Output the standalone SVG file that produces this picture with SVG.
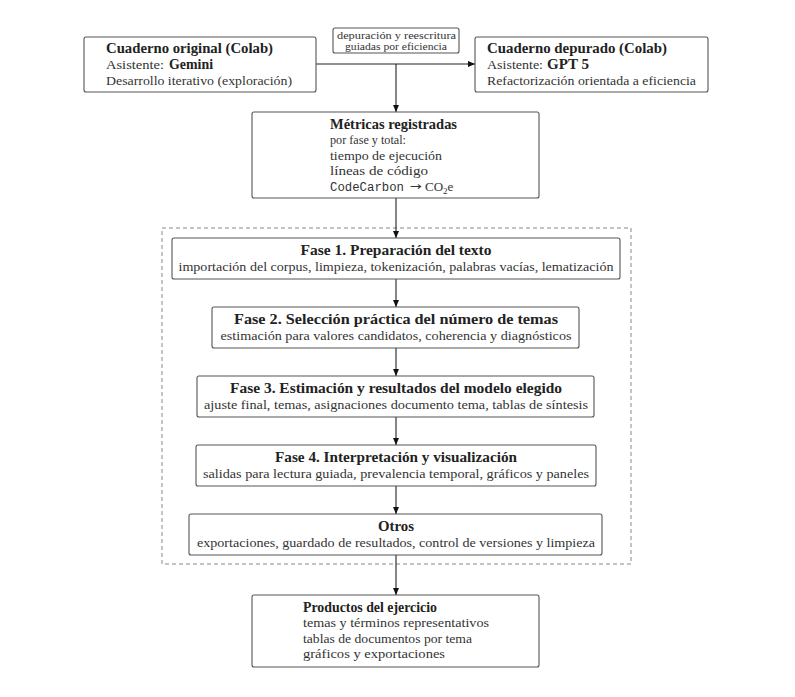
<svg xmlns="http://www.w3.org/2000/svg" width="795" height="697" viewBox="0 0 795 697">
<style>
.box{fill:#fff;stroke:#555;stroke-width:1.1}
.t{font-family:"Liberation Serif","Times New Roman",serif;fill:#222}
.b{font-weight:bold;font-size:14px}
.r{font-size:13px;fill:#333}
.s{font-size:10.5px;fill:#333}
.m{font-family:"Liberation Mono","Courier New",monospace;font-size:12px;fill:#333}
.c{text-anchor:middle}
.ln{stroke:#222;stroke-width:1.1;fill:none;marker-end:url(#ah)}
.dash{fill:none;stroke:#888;stroke-width:1;stroke-dasharray:4 3}
</style>
<defs>
<marker id="ah" markerUnits="userSpaceOnUse" markerWidth="8" markerHeight="8" viewBox="0 0 8 8" refX="7.5" refY="4" orient="auto">
<path d="M0.5,1 L7.5,4 L0.5,7 Z" fill="#111"/>
</marker>
</defs>
<rect width="795" height="697" fill="#fff"/>
<rect class="dash" x="162" y="228" width="469" height="336"/>
<g id="connectors">
<line class="ln" x1="316" y1="64" x2="475" y2="64"/>
<line class="ln" x1="396" y1="64" x2="396" y2="112"/>
<line class="ln" x1="396" y1="198" x2="396" y2="238"/>
<line class="ln" x1="396" y1="279" x2="396" y2="307"/>
<line class="ln" x1="396" y1="348" x2="396" y2="376"/>
<line class="ln" x1="396" y1="417" x2="396" y2="445"/>
<line class="ln" x1="396" y1="486" x2="396" y2="514"/>
<line class="ln" x1="396" y1="555" x2="396" y2="595"/>
</g>
<g id="label">
<rect class="box" x="333" y="28" width="126" height="25" rx="2"/>
<text class="t s" x="337" y="39" textLength="119" lengthAdjust="spacingAndGlyphs">depuración y reescritura</text>
<text class="t s" x="345" y="49.5" textLength="102" lengthAdjust="spacingAndGlyphs">guiadas por eficiencia</text>
</g>
<g id="original">
<rect class="box" x="84" y="37" width="232" height="55" rx="2"/>
<text class="t b" x="106" y="53" textLength="167" lengthAdjust="spacingAndGlyphs">Cuaderno original (Colab)</text>
<text class="t r" x="106" y="68.5" textLength="58" lengthAdjust="spacingAndGlyphs">Asistente:</text>
<text class="t b" x="169" y="68.5" textLength="44" lengthAdjust="spacingAndGlyphs">Gemini</text>
<text class="t r" x="106" y="84.5" textLength="186" lengthAdjust="spacingAndGlyphs">Desarrollo iterativo (exploración)</text>
</g>
<g id="depurado">
<rect class="box" x="475" y="37" width="233" height="55" rx="2"/>
<text class="t b" x="487" y="53" textLength="180" lengthAdjust="spacingAndGlyphs">Cuaderno depurado (Colab)</text>
<text class="t r" x="487" y="68.5" textLength="56" lengthAdjust="spacingAndGlyphs">Asistente:</text>
<text class="t b" x="547" y="68.5" textLength="42" lengthAdjust="spacingAndGlyphs">GPT 5</text>
<text class="t r" x="487" y="84.5" textLength="209" lengthAdjust="spacingAndGlyphs">Refactorización orientada a eficiencia</text>
</g>
<g id="metricas">
<rect class="box" x="252" y="112" width="287" height="86" rx="2"/>
<text class="t b" x="330" y="128.5" textLength="127" lengthAdjust="spacingAndGlyphs">Métricas registradas</text>
<text class="t r" x="330" y="144" textLength="76" lengthAdjust="spacingAndGlyphs">por fase y total:</text>
<text class="t r" x="330" y="159.5" textLength="112" lengthAdjust="spacingAndGlyphs">tiempo de ejecución</text>
<text class="t r" x="330" y="175" textLength="98" lengthAdjust="spacingAndGlyphs">líneas de código</text>
<text class="m" x="330" y="190.5" textLength="74" lengthAdjust="spacingAndGlyphs">CodeCarbon</text>
<text x="409.5" y="190" font-family="DejaVu Sans, sans-serif" font-size="11" fill="#333" textLength="12" lengthAdjust="spacingAndGlyphs">→</text>
<text class="t r" x="425" y="190.5">CO<tspan font-size="9" dy="3">2</tspan><tspan dy="-3">e</tspan></text>
</g>
<g id="fase1">
<rect class="box" x="172" y="238" width="448" height="41" rx="2"/>
<text class="t b c" x="396" y="254.5" textLength="191" lengthAdjust="spacingAndGlyphs">Fase 1. Preparación del texto</text>
<text class="t r c" x="396" y="270.5" textLength="435" lengthAdjust="spacingAndGlyphs">importación del corpus, limpieza, tokenización, palabras vacías, lematización</text>
</g>
<g id="fase2">
<rect class="box" x="212" y="307" width="367" height="41" rx="2"/>
<text class="t b c" x="396" y="323.5" textLength="324" lengthAdjust="spacingAndGlyphs">Fase 2. Selección práctica del número de temas</text>
<text class="t r c" x="396" y="339.5" textLength="351" lengthAdjust="spacingAndGlyphs">estimación para valores candidatos, coherencia y diagnósticos</text>
</g>
<g id="fase3">
<rect class="box" x="197" y="376" width="397" height="41" rx="2"/>
<text class="t b c" x="396" y="392.5" textLength="332" lengthAdjust="spacingAndGlyphs">Fase 3. Estimación y resultados del modelo elegido</text>
<text class="t r c" x="396" y="408.5" textLength="384" lengthAdjust="spacingAndGlyphs">ajuste final, temas, asignaciones documento tema, tablas de síntesis</text>
</g>
<g id="fase4">
<rect class="box" x="196" y="445" width="400" height="41" rx="2"/>
<text class="t b c" x="396" y="461.5" textLength="242" lengthAdjust="spacingAndGlyphs">Fase 4. Interpretación y visualización</text>
<text class="t r c" x="396" y="477.5" textLength="386" lengthAdjust="spacingAndGlyphs">salidas para lectura guiada, prevalencia temporal, gráficos y paneles</text>
</g>
<g id="otros">
<rect class="box" x="189" y="514" width="413" height="41" rx="2"/>
<text class="t b c" x="396" y="530.5" textLength="36" lengthAdjust="spacingAndGlyphs">Otros</text>
<text class="t r c" x="396" y="546.5" textLength="398" lengthAdjust="spacingAndGlyphs">exportaciones, guardado de resultados, control de versiones y limpieza</text>
</g>
<g id="productos">
<rect class="box" x="252" y="595" width="287" height="72" rx="2"/>
<text class="t b" x="303" y="611.5" textLength="134" lengthAdjust="spacingAndGlyphs">Productos del ejercicio</text>
<text class="t r" x="303" y="627" textLength="186" lengthAdjust="spacingAndGlyphs">temas y términos representativos</text>
<text class="t r" x="303" y="642.5" textLength="169" lengthAdjust="spacingAndGlyphs">tablas de documentos por tema</text>
<text class="t r" x="303" y="658" textLength="142" lengthAdjust="spacingAndGlyphs">gráficos y exportaciones</text>
</g>
</svg>
